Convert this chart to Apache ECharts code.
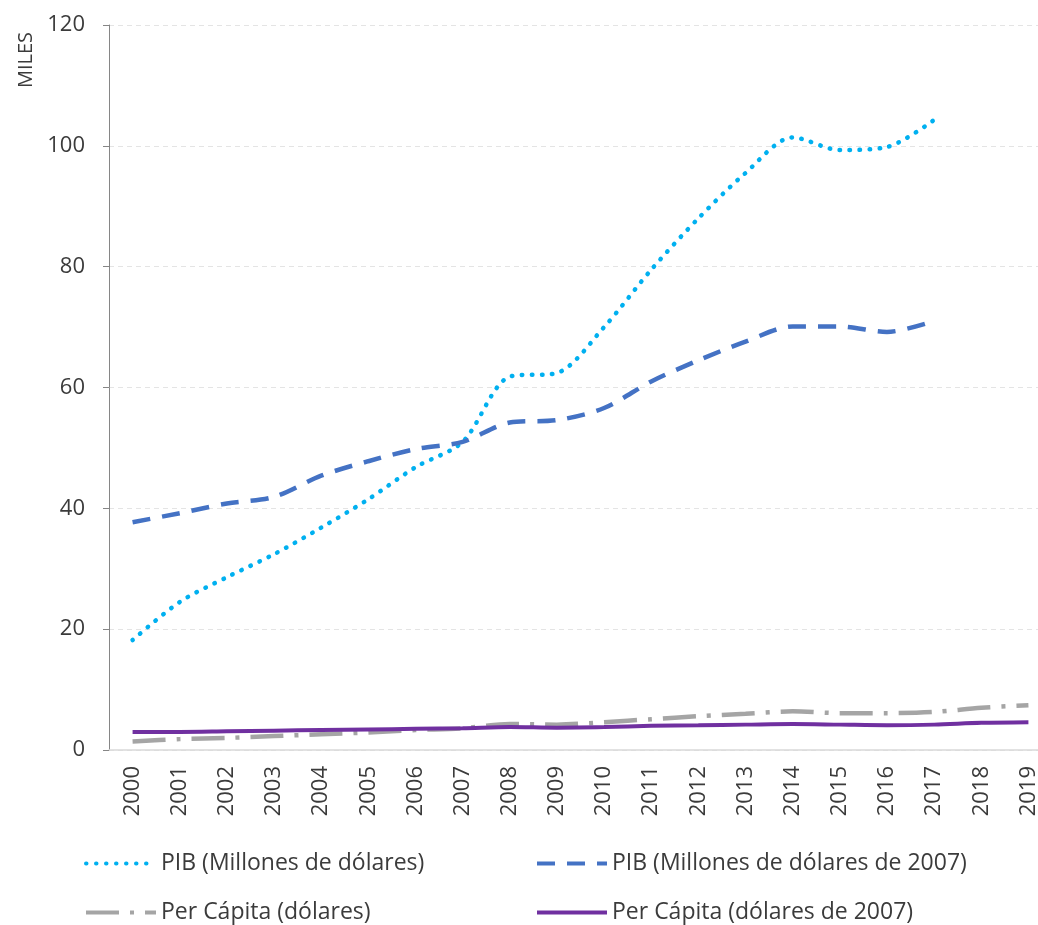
<!DOCTYPE html>
<html>
<head>
<meta charset="utf-8">
<script src="https://cdn.jsdelivr.net/npm/echarts@6/dist/echarts.min.js"></script>
<style>html,body{margin:0;padding:0;background:#fff}#c{width:1038px;height:925px}</style>
</head>
<body>
<div id="c"></div>
<script>
const years = ['2000','2001','2002','2003','2004','2005','2006','2007','2008','2009','2010','2011','2012','2013','2014','2015','2016','2017','2018','2019'];
const pibCorriente = [18.2, 24.5, 28.6, 32.4, 36.8, 41.5, 46.8, 51.0, 61.8, 62.4, 70.0, 79.5, 88.0, 95.5, 101.4, 99.3, 99.8, 104.3, null, null];
const pib2007 = [37.7, 39.2, 40.8, 41.9, 45.4, 47.8, 49.8, 51.0, 54.2, 54.6, 56.6, 61.0, 64.5, 67.6, 70.1, 70.1, 69.2, 71.0, null, null];
const pcCorriente = [1.4, 1.8, 2.0, 2.3, 2.6, 2.9, 3.3, 3.6, 4.3, 4.2, 4.6, 5.1, 5.6, 6.0, 6.4, 6.1, 6.1, 6.3, 7.0, 7.4];
const pc2007 = [3.0, 3.0, 3.1, 3.2, 3.3, 3.4, 3.5, 3.6, 3.8, 3.7, 3.8, 4.0, 4.1, 4.2, 4.3, 4.2, 4.1, 4.2, 4.5, 4.6];
const names = ['PIB (Millones de dólares)', 'PIB (Millones de dólares de 2007)', 'Per Cápita (dólares)', 'Per Cápita (dólares de 2007)'];
const yTicks = [0, 20, 40, 60, 80, 100, 120];

const FONT = 'Open Sans';
const TXT = '#3b3b3b';
const chart = echarts.init(document.getElementById('c'));
function legendFor(name, left, top) {
  return {
    orient: 'horizontal', left: left, top: top, padding: 0,
    itemWidth: 70, itemHeight: 14, itemGap: 5,
    itemStyle: {opacity: 0},
    lineStyle: {width: 4},
    textStyle: {fontSize: 23, color: TXT, fontFamily: FONT},
    data: [name]
  };
}
chart.setOption({
  animation: false,
  textStyle: {fontFamily: FONT},
  grid: {left: 109, top: 25, right: -14, bottom: 175, containLabel: false, outerBoundsMode: 'none'},
  graphic: [{
    type: 'text', left: 16, top: 32, rotation: Math.PI/2,
    style: {text: 'MILES', fontSize: 20, fill: TXT, fontFamily: FONT}
  }],
  xAxis: {
    type: 'category', data: years, boundaryGap: true,
    axisLine: {lineStyle: {color: '#d9d9d9', width: 1.5}},
    axisTick: {show: false},
    axisLabel: {rotate: 90, fontSize: 22, color: TXT, margin: 16, interval: 0}
  },
  yAxis: {
    type: 'value', min: 0, max: 120, interval: 20,
    axisLine: {show: true, lineStyle: {color: '#868686', width: 1}},
    axisTick: {show: true, length: 6, lineStyle: {color: '#868686'}},
    axisLabel: {fontSize: 22, color: TXT, margin: 24, formatter: v => yTicks.includes(v) ? String(v) : ''},
    splitLine: {show: true, lineStyle: {color: '#e4e4e4', type: [5, 4], width: 1}}
  },
  legend: [
    legendFor(names[0], 84, 852),
    legendFor(names[1], 535, 852),
    legendFor(names[2], 84, 901),
    legendFor(names[3], 535, 901)
  ],
  series: [
    {name: names[0], type: 'line', data: pibCorriente, smooth: 0.3, symbol: 'none', connectNulls: false,
     itemStyle: {color: '#00B0F0'},
     lineStyle: {color: '#00B0F0', width: 4.5, type: [0.5, 9.5], cap: 'round'}},
    {name: names[1], type: 'line', data: pib2007, smooth: 0.3, symbol: 'none',
     itemStyle: {color: '#4472C4'},
     lineStyle: {color: '#4472C4', width: 4.5, type: [18, 12]}},
    {name: names[2], type: 'line', data: pcCorriente, smooth: 0.3, symbol: 'none',
     itemStyle: {color: '#A5A5A5'},
     lineStyle: {color: '#A5A5A5', width: 4.5, type: [33, 11, 4, 11]}},
    {name: names[3], type: 'line', data: pc2007, smooth: 0.3, symbol: 'none',
     itemStyle: {color: '#7030A0'},
     lineStyle: {color: '#7030A0', width: 4}}
  ]
});
</script>
</body>
</html>
